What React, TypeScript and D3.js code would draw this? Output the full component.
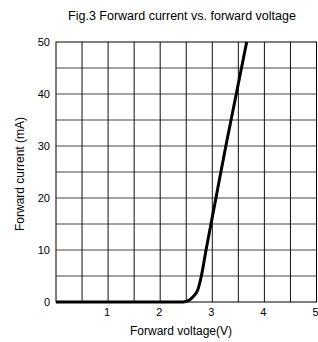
import React from 'react';
import * as d3 from 'd3';

const voltage = [0, 2.44, 2.55, 2.63, 2.72, 2.79, 2.88, 3.07, 3.26, 3.46, 3.66];
const current = [0, 0, 0.3, 1, 2.3, 5, 10, 20, 30, 40, 50];
const xTickLabels = [1, 2, 3, 4, 5];
const yTickLabels = [0, 10, 20, 30, 40, 50];
const xGrid = [0.5, 1, 1.5, 2, 2.5, 3, 3.5, 4, 4.5];
const yGrid = [5, 10, 15, 20, 25, 30, 35, 40, 45];

const W = 318;
const H = 342;

const App = () => {
    const x = d3.scaleLinear().domain([0, 5]).range([56, 316.5]);
    const y = d3.scaleLinear().domain([0, 50]).range([302, 42]);

    const pts: [number, number][] = voltage.map((v, i) => [v, current[i]]);
    const line = d3.line<[number, number]>()
        .x(d => x(d[0]))
        .y(d => y(d[1]))
        .curve(d3.curveMonotoneX);

    const font = 'Arial, "Liberation Sans", sans-serif';

    return (
        <svg width={W} height={H} style={{ position: 'absolute', left: 0, top: 0, background: '#fff' }}
            fontFamily={font}>
            <text x={182} y={20} fontSize={12.5} textAnchor="middle" fill="#000">
                Fig.3 Forward current vs. forward voltage
            </text>

            {yGrid.map(v => (
                <line key={'h' + v} x1={x(0)} x2={x(5)} y1={y(v)} y2={y(v)} stroke="#444" strokeWidth={1} />
            ))}
            {xGrid.map(v => (
                <line key={'v' + v} x1={x(v)} x2={x(v)} y1={y(0)} y2={y(50)} stroke="#111" strokeWidth={1} />
            ))}
            <rect x={x(0)} y={y(50)} width={x(5) - x(0)} height={y(0) - y(50)} fill="none" stroke="#000" strokeWidth={1} />

            <path d={line(pts) || ''} fill="none" stroke="#000" strokeWidth={3} strokeLinejoin="round" />

            {yTickLabels.map(v => (
                <text key={'yl' + v} x={50} y={y(v)} dy="0.35em" fontSize={11} textAnchor="end" fill="#000">{v}</text>
            ))}
            {xTickLabels.map(v => (
                <text key={'xl' + v} x={x(v) - 1} y={316} fontSize={11} textAnchor="middle" fill="#000">{v}</text>
            ))}

            <text x={181} y={335} fontSize={12} textAnchor="middle" fill="#000">Forward voltage(V)</text>
            <text transform={`translate(24,174) rotate(-90)`} fontSize={12} textAnchor="middle" fill="#000">
                Forward current (mA)
            </text>
        </svg>
    );
};

export default App;
